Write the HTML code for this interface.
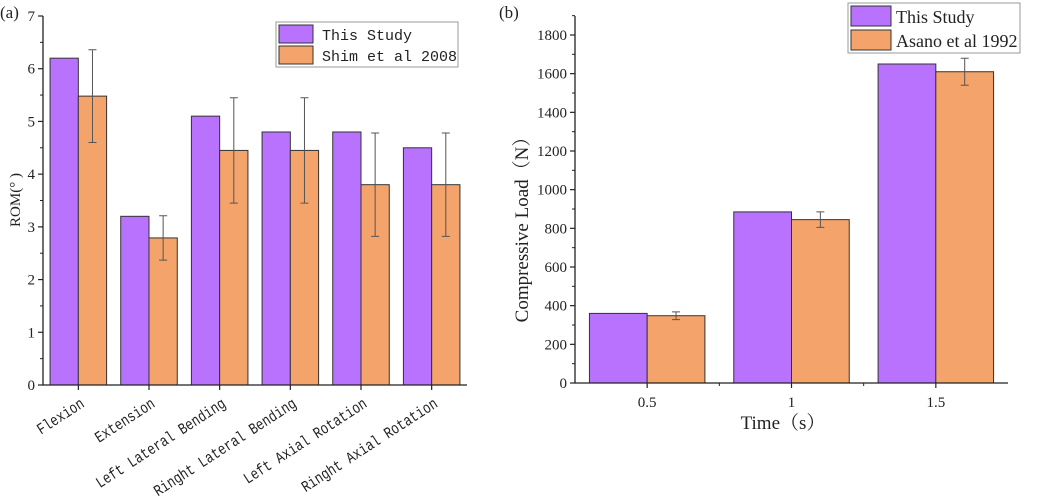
<!DOCTYPE html>
<html><head><meta charset="utf-8"><style>
body{margin:0;background:#fff;}
svg{display:block;}
text{fill:#222;}
.serif{font-family:"Liberation Serif","Noto Serif CJK SC",serif;}
.mono{font-family:"Liberation Mono","Noto Sans CJK SC",monospace;}
</style></head><body>
<svg id="chart" width="1052" height="496" viewBox="0 0 1052 496" xmlns="http://www.w3.org/2000/svg">
<text class="serif" x="0" y="18" font-size="17">(a)</text>
<text class="serif" x="499" y="18" font-size="17">(b)</text>
<g id="ga"></g>
<g id="gb"></g>
</svg>
<script>
const catsA = ["Flexion","Extension","Left Lateral Bending","Ringht Lateral Bending","Left Axial Rotation","Ringht Axial Rotation"];
const thisA = [6.2, 3.2, 5.1, 4.8, 4.8, 4.5];
const shimA = [5.48, 2.79, 4.45, 4.45, 3.8, 3.8];
const errA = [0.88, 0.42, 1.0, 1.0, 0.98, 0.98];
const ticksA = [0,1,2,3,4,5,6,7];

const catsB = ["0.5","1","1.5"];
const thisB = [360, 885, 1650];
const asanoB = [348, 845, 1610];
const errB = [20, 40, 70];
const ticksB = [0,200,400,600,800,1000,1200,1400,1600,1800];

const NS="http://www.w3.org/2000/svg";
const PUR="#b972fe", ORA="#f4a46b", STROKE="#333";
function mk(tag, attrs, parent){const e=document.createElementNS(NS,tag);for(const k in attrs)e.setAttribute(k,attrs[k]);parent.appendChild(e);return e;}

function drawChart(g, o){
  const y = v => o.y0 - (v - 0) * (o.y0 - o.yTop) / (o.yMax);
  const bw = (o.x1 - o.x0) / o.cats.length;
  const cx = i => o.x0 + (i + 0.5) * bw;
  const w = bw * o.barFrac;
  o.cats.forEach((c,i)=>{
    const r1 = mk('rect',{x:cx(i)-w,y:y(o.s1[i]),width:w,height:y(0)-y(o.s1[i]),fill:PUR,stroke:STROKE,'stroke-width':1},g);
    
    
    const r2 = mk('rect',{x:cx(i),y:y(o.s2[i]),width:w,height:y(0)-y(o.s2[i]),fill:ORA,stroke:STROKE,'stroke-width':1},g);
    
    
    const ex = cx(i) + w/2, hi=y(o.s2[i]+o.err[i]), lo=y(o.s2[i]-o.err[i]);
    const eb = mk('path',{d:`M${ex},${hi}V${lo}M${ex-4},${hi}H${ex+4}M${ex-4},${lo}H${ex+4}`,stroke:'#555','stroke-width':1,fill:'none'},g);
    
    
  });
  const ax = mk('path',{d:`M${o.x0},${o.yAxTop}V${o.y0}H${o.x1}`,stroke:'#222','stroke-width':1.3,fill:'none'},g);
  
  
  o.ticks.forEach((t,k)=>{
    mk('line',{x1:o.x0-5,x2:o.x0,y1:y(t),y2:y(t),stroke:'#222','stroke-width':1.2},g);
    if(k<o.ticks.length-1 || o.minorLast){const m=(t+o.step/2);mk('line',{x1:o.x0-3,x2:o.x0,y1:y(m),y2:y(m),stroke:'#222','stroke-width':1},g);}
    const tl = mk('text',{x:o.x0-8,y:y(t)+5,'font-size':o.tickFs,'text-anchor':'end',class:'serif'},g);
    tl.textContent=t;
    
    
  });
  o.cats.forEach((c,i)=>{
    mk('line',{x1:cx(i),x2:cx(i),y1:o.y0,y2:o.y0+5,stroke:'#222','stroke-width':1.2},g);
    if(o.groupTicks && i>0) mk('line',{x1:o.x0+i*bw,x2:o.x0+i*bw,y1:o.y0,y2:o.y0+3,stroke:'#222','stroke-width':1},g);
    let t;
    if(o.rotate){
      const ax0=cx(i)+7, ay0=o.y0+21;
      const gg = mk('g',{transform:`translate(${ax0} ${ay0}) rotate(-33) scale(1 1.25)`},g);
      t = mk('text',{x:0,y:0,'font-size':12.6,'text-anchor':'end',class:'mono'},gg);
    } else {
      t = mk('text',{x:cx(i),y:o.y0+24,'font-size':15,'text-anchor':'middle',class:'serif'},g);
    }
    t.textContent=c;
    
    
  });
}

drawChart(document.getElementById('ga'),{cats:catsA,s1:thisA,s2:shimA,err:errA,ticks:ticksA,step:1,yMax:7,x0:43,x1:467,y0:385,yTop:16,yAxTop:16,barFrac:0.4,tickFs:15,rotate:true});
drawChart(document.getElementById('gb'),{cats:catsB,s1:thisB,s2:asanoB,err:errB,ticks:ticksB,step:200,minorLast:true,yMax:1800,x0:575,x1:1008,y0:383,yTop:35,yAxTop:16,barFrac:0.4,tickFs:15,groupTicks:true});
</script>
<svg style="position:absolute;left:0;top:0" width="1052" height="496">
<text class="serif" font-size="15" transform="translate(20 200) rotate(-90)" text-anchor="middle">ROM(°  )</text>
<text class="serif" font-size="19" transform="translate(528 225) rotate(-90)" text-anchor="middle">Compressive Load（N）</text>
<text class="serif" font-size="19" x="783" y="429" text-anchor="middle">Time（s）</text>
<g>
<rect x="276" y="22" width="182" height="45" fill="#fff" stroke="#999" stroke-width="1"/>
<rect x="279" y="25" width="34" height="18" fill="#b972fe" stroke="#333"/>
<rect x="279" y="46" width="34" height="18" fill="#f4a46b" stroke="#333"/>
<text class="mono" font-size="15" x="322" y="40">This Study</text>
<text class="mono" font-size="15" x="322" y="61">Shim et al 2008</text>
</g>
<g>
<rect x="848" y="3" width="172" height="50" fill="#fff" stroke="#999" stroke-width="1"/>
<rect x="851" y="6" width="40" height="20" fill="#b972fe" stroke="#333"/>
<rect x="851" y="30" width="40" height="20" fill="#f4a46b" stroke="#333"/>
<text class="serif" font-size="18" x="896" y="23">This Study</text>
<text class="serif" font-size="18" x="896" y="47">Asano et al 1992</text>
</g>
</svg>
</body></html>
